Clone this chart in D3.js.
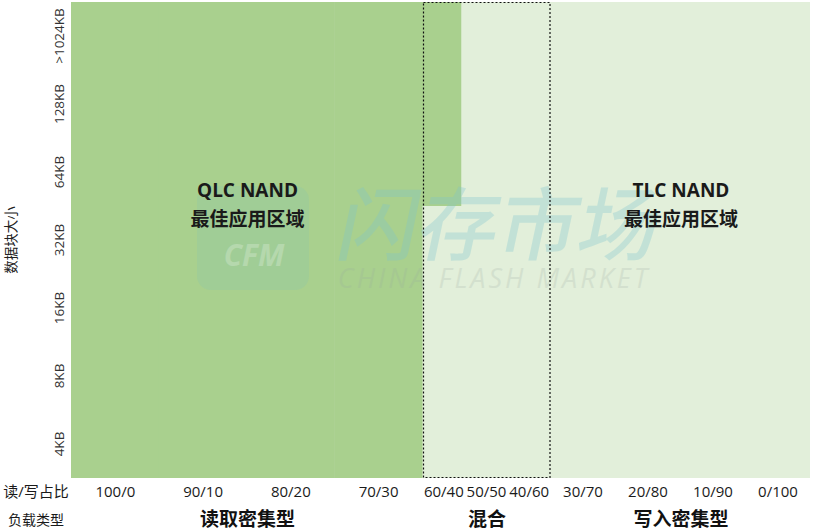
<!DOCTYPE html>
<html>
<head>
<meta charset="utf-8">
<script src="https://cdn.jsdelivr.net/npm/d3@7/dist/d3.min.js"></script>
<style>
  html, body { margin: 0; padding: 0; background: #ffffff; }
  svg { display: block; }
  text { font-family: "Open Sans", "Noto Sans CJK SC", sans-serif; }
</style>
</head>
<body>
<svg id="chart" width="814" height="531"></svg>
<script>
// ---- data ----
const ratioLabels = ["100/0", "90/10", "80/20", "70/30", "60/40", "50/50", "40/60", "30/70", "20/80", "10/90", "0/100"];
const workloadTypes = ["读取密集型", "混合", "写入密集型"];
const workloadColumnCounts = [4, 3, 4];
const blockSizes = ["4KB", "8KB", "16KB", "32KB", "64KB", "128KB", ">1024KB"];
// QLC best-fit zone: read/write ratios and smallest block size covered (up to >1024KB)
const qlcZoneRatios = ["100/0", "90/10", "80/20", "70/30", "60/40"];
const qlcZoneMinBlock = ["4KB", "4KB", "4KB", "4KB", "64KB"];
const zoneTitles = ["QLC NAND", "TLC NAND"];
const zoneSubtitle = "最佳应用区域";
const xRowTitle = "读/写占比";
const groupRowTitle = "负载类型";
const yTitle = "数据块大小";

// ---- layout ----
const svg = d3.select("#chart");
const pL = 71, pR = 810, pT = 2, pB = 478;
const groupEdges = [pL, 422, 550, pR];
const cumCounts = [0];
workloadColumnCounts.forEach(c => cumCounts.push(cumCounts[cumCounts.length - 1] + c));
// piecewise linear scale: column index -> x
const x = d3.scaleLinear().domain(cumCounts).range(groupEdges);
const y = d3.scaleBand().domain(blockSizes).range([pB, pT]).padding(0);

const colorLight = "#e2efda";
const colorDark = "#a9d08e";

// background (TLC region everywhere)
svg.append("rect")
  .attr("x", x(0)).attr("y", pT)
  .attr("width", x(ratioLabels.length) - x(0)).attr("height", pB - pT)
  .attr("fill", colorLight);

// QLC zone cells
const qlcCells = qlcZoneRatios.map((r, i) => {
  const ci = ratioLabels.indexOf(r);
  const bi = blockSizes.indexOf(qlcZoneMinBlock[i]);
  return { c: ci, b: bi };
});
const topBlock = blockSizes[blockSizes.length - 1];
svg.append("g").selectAll("rect").data(qlcCells).join("rect")
  .attr("x", d => x(d.c))
  .attr("width", d => (x(d.c + 1) - x(d.c)) * (d.c >= 4 ? 0.92 : 1) + (d.c < 4 ? 0.5 : 0))
  .attr("y", y(topBlock))
  .attr("height", d => y(blockSizes[d.b]) + y.bandwidth() - y(topBlock))
  .attr("fill", colorDark);

// watermark
const wm = svg.append("g").attr("pointer-events", "none");
wm.append("rect")
  .attr("x", 197).attr("y", 186).attr("width", 112).attr("height", 104).attr("rx", 14)
  .attr("fill", "#7fc4b8").attr("opacity", 0.2);
wm.append("text")
  .attr("x", 254).attr("y", 266).attr("text-anchor", "middle")
  .attr("font-size", 30).attr("font-weight", 700).attr("font-style", "italic")
  .attr("fill", "#ffffff").attr("opacity", 0.22).text("CFM");
wm.append("text")
  .attr("x", 494).attr("y", 254).attr("text-anchor", "middle")
  .attr("font-family", "Noto Sans CJK SC").attr("font-size", 80).attr("font-weight", 500)
  .attr("transform", "translate(54,0) skewX(-12)")
  .attr("fill", "#7cc4cf").attr("opacity", 0.3)
  .text("闪存市场");
wm.append("text")
  .attr("x", 494).attr("y", 288).attr("text-anchor", "middle")
  .attr("font-size", 27).attr("font-style", "italic").attr("letter-spacing", 3)
  .attr("fill", "#9aa9a0").attr("opacity", 0.2)
  .text("CHINA FLASH MARKET");

// dashed box around mixed group
svg.append("rect")
  .attr("x", x(cumCounts[1]) + 1.5).attr("y", pT + 0.5)
  .attr("width", x(cumCounts[2]) - x(cumCounts[1]) - 1.5).attr("height", pB - pT - 1)
  .attr("fill", "none").attr("stroke", "#111").attr("stroke-width", 1.2)
  .attr("stroke-dasharray", "2,2");

// zone titles
const zoneCenters = [(x(cumCounts[0]) + x(cumCounts[1])) / 2 + 1, (x(cumCounts[2]) + x(cumCounts[3])) / 2 + 1];
zoneTitles.forEach((t, i) => {
  svg.append("text")
    .attr("x", zoneCenters[i]).attr("y", 197).attr("text-anchor", "middle")
    .attr("font-size", 19).attr("font-weight", 700).attr("fill", "#1a1a1a")
    .text(t);
  svg.append("text")
    .attr("x", zoneCenters[i]).attr("y", 226).attr("text-anchor", "middle")
    .attr("font-family", "Noto Sans CJK SC").attr("font-size", 19).attr("font-weight", 700)
    .attr("fill", "#1a1a1a")
    .text(zoneSubtitle);
});

// y axis tick labels (rotated)
const yAxis = svg.append("g").attr("transform", `translate(${pL},0)`)
  .call(d3.axisLeft(y).tickSize(0).tickPadding(0));
yAxis.select(".domain").remove();
yAxis.selectAll(".tick text")
  .attr("transform", "translate(-12,0) rotate(-90)")
  .attr("x", 0).attr("y", 4.5).attr("dy", 0)
  .attr("text-anchor", "middle")
  .attr("font-family", "Open Sans").attr("font-size", 13.5).attr("fill", "#333");

svg.append("text")
  .attr("transform", "translate(16,240) rotate(-90)")
  .attr("text-anchor", "middle")
  .attr("font-family", "Noto Sans CJK SC").attr("font-size", 13.5).attr("fill", "#222")
  .text(yTitle);

// x ratio labels
const xPos = d3.scaleOrdinal().domain(ratioLabels).range(ratioLabels.map((d, i) => x(i + 0.5)));
const xAxis = svg.append("g").attr("transform", `translate(0,${pB})`)
  .call(d3.axisBottom(xPos).tickSize(0).tickPadding(0));
xAxis.select(".domain").remove();
xAxis.selectAll(".tick text")
  .attr("y", 19).attr("dy", 0)
  .attr("font-family", "Open Sans").attr("font-size", 15).attr("fill", "#1a1a1a");

svg.append("text")
  .attr("x", 36).attr("y", 497).attr("text-anchor", "middle")
  .attr("font-family", "Noto Sans CJK SC").attr("font-size", 15).attr("fill", "#1a1a1a")
  .text(xRowTitle);
svg.append("text")
  .attr("x", 36).attr("y", 525).attr("text-anchor", "middle")
  .attr("font-family", "Noto Sans CJK SC").attr("font-size", 14).attr("fill", "#1a1a1a")
  .text(groupRowTitle);

// workload group labels
svg.append("g").selectAll("text").data(workloadTypes).join("text")
  .attr("x", (d, i) => (x(cumCounts[i]) + x(cumCounts[i + 1])) / 2 + 1)
  .attr("y", 526).attr("text-anchor", "middle")
  .attr("font-family", "Noto Sans CJK SC").attr("font-size", 19).attr("font-weight", 700)
  .attr("fill", "#111")
  .text(d => d);
</script>
</body>
</html>
